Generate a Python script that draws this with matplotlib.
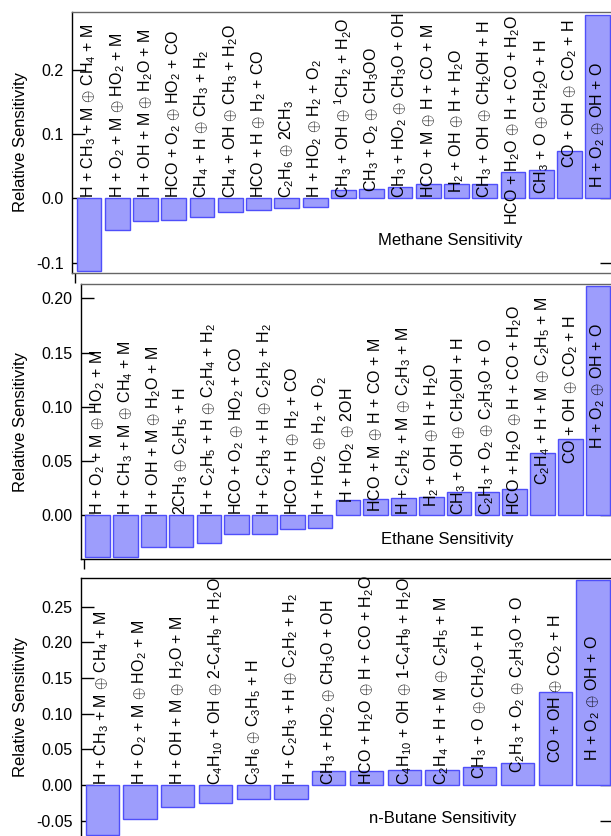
import matplotlib
matplotlib.use('Agg')
import matplotlib.pyplot as plt
import numpy as np

plt.rcParams['font.family'] = ['Liberation Sans', 'DejaVu Sans']
plt.rcParams['mathtext.fontset'] = 'custom'
plt.rcParams['mathtext.rm'] = 'Liberation Sans'
plt.rcParams['mathtext.it'] = 'Liberation Sans:italic'
plt.rcParams['mathtext.default'] = 'rm'
plt.rcParams['mathtext.fallback'] = 'cm'
plt.rcParams['axes.unicode_minus'] = False

EQ = r'$\oplus$'

# Methane
methane_rxn = ['H + CH$_3$ + M ⊕ CH$_4$ + M', 'H + O$_2$ + M ⊕ HO$_2$ + M', 'H + OH + M ⊕ H$_2$O + M',
               'HCO + O$_2$ ⊕ HO$_2$ + CO', 'CH$_4$ + H ⊕ CH$_3$ + H$_2$', 'CH$_4$ + OH ⊕ CH$_3$ + H$_2$O',
               'HCO + H ⊕ H$_2$ + CO', 'C$_2$H$_6$ ⊕ 2CH$_3$', 'H + HO$_2$ ⊕ H$_2$ + O$_2$',
               'CH$_3$ + OH ⊕ $^1$CH$_2$ + H$_2$O', 'CH$_3$ + O$_2$ ⊕ CH$_3$OO', 'CH$_3$ + HO$_2$ ⊕ CH$_3$O + OH',
               'HCO + M ⊕ H + CO + M', 'H$_2$ + OH ⊕ H + H$_2$O', 'CH$_3$ + OH ⊕ CH$_2$OH + H',
               'HCO + H$_2$O ⊕ H + CO + H$_2$O', 'CH$_3$ + O ⊕ CH$_2$O + H', 'CO + OH ⊕ CO$_2$ + H',
               'H + O$_2$ ⊕ OH + O']
methane_sens = [-0.113, -0.049, -0.035, -0.034, -0.029, -0.0215, -0.0187, -0.0156, -0.014,
                0.013, 0.014, 0.017, 0.022, 0.022, 0.022, 0.0404, 0.0435, 0.0736, 0.2846]
methane_lbl_y = [0, 0, 0, 0, 0, 0, 0, 0, 0,
                 0, 0.010, 0, 0, 0.009, 0, -0.0415, 0.006, 0.0467, 0.0156]

# Ethane
ethane_rxn = ['H + O$_2$ + M ⊕ HO$_2$ + M', 'H + CH$_3$ + M ⊕ CH$_4$ + M', 'H + OH + M ⊕ H$_2$O + M',
              '2CH$_3$ ⊕ C$_2$H$_5$ + H', 'H + C$_2$H$_5$ + H ⊕ C$_2$H$_4$ + H$_2$', 'HCO + O$_2$ ⊕ HO$_2$ + CO',
              'H + C$_2$H$_3$ + H ⊕ C$_2$H$_2$ + H$_2$', 'HCO + H ⊕ H$_2$ + CO', 'H + HO$_2$ ⊕ H$_2$ + O$_2$',
              'H + HO$_2$ ⊕ 2OH', 'HCO + M ⊕ H + CO + M', 'H + C$_2$H$_2$ + M ⊕ C$_2$H$_3$ + M',
              'H$_2$ + OH ⊕ H + H$_2$O', 'CH$_3$ + OH ⊕ CH$_2$OH + H', 'C$_2$H$_3$ + O$_2$ ⊕ C$_2$H$_3$O + O',
              'HCO + H$_2$O ⊕ H + CO + H$_2$O', 'C$_2$H$_4$ + H + M ⊕ C$_2$H$_5$ + M', 'CO + OH ⊕ CO$_2$ + H',
              'H + O$_2$ ⊕ OH + O']
ethane_sens = [-0.039, -0.0385, -0.0298, -0.0295, -0.0262, -0.0178, -0.0178, -0.0126, -0.012,
               0.0139, 0.0148, 0.0157, 0.0166, 0.0212, 0.0212, 0.024, 0.057, 0.0699, 0.2111]
ethane_lbl_y = [0, 0, 0, 0, 0, 0, 0, 0, 0,
                0.0115, 0.003, 0, 0.0074, 0, 0, 0, 0.0274, 0.0475, 0.0613]

# n-Butane
butane_rxn = ['H + CH$_3$ + M ⊕ CH$_4$ + M', 'H + O$_2$ + M ⊕ HO$_2$ + M', 'H + OH + M ⊕ H$_2$O + M',
              'C$_4$H$_{10}$ + OH ⊕ 2-C$_4$H$_9$ + H$_2$O', 'C$_3$H$_6$ ⊕ C$_3$H$_5$ + H',
              'H + C$_2$H$_3$ + H ⊕ C$_2$H$_2$ + H$_2$', 'CH$_3$ + HO$_2$ ⊕ CH$_3$O + OH',
              'HCO + H$_2$O ⊕ H + CO + H$_2$O', 'C$_4$H$_{10}$ + OH ⊕ 1-C$_4$H$_9$ + H$_2$O',
              'C$_2$H$_4$ + H + M ⊕ C$_2$H$_5$ + M', 'CH$_3$ + O ⊕ CH$_2$O + H',
              'C$_2$H$_3$ + O$_2$ ⊕ C$_2$H$_3$O + O', 'CO + OH ⊕ CO$_2$ + H', 'H + O$_2$ ⊕ OH + O']
butane_sens = [-0.070, -0.0477, -0.0313, -0.0257, -0.0196, -0.0196,
               0.020, 0.020, 0.0215, 0.0215, 0.0248, 0.031, 0.1303, 0.2875]
butane_lbl_y = [0, 0, 0, 0, 0, 0, 0, 0, 0, 0, 0.008, 0.0164, 0.031, 0.033]

W, H = 611, 836
fig = plt.figure(figsize=(W / 100, H / 100), dpi=100)


def px_axes(left, top, right, bottom):
    return fig.add_axes([left / W, 1 - bottom / H, (right - left) / W, (bottom - top) / H])


panels = [
    dict(rxn=methane_rxn, sens=methane_sens, lbl=methane_lbl_y, box=(72, 12.3, 612, 272.7),
         ylim=(-0.1157, 0.2893), yticks=[-0.1, 0.0, 0.1, 0.2], fmt='%.1f', xlim=(-0.6, 18.5),
         title='Methane Sensitivity', tpos=(0.700, 0.122), top_c='#666666', bot_c='#666666'),
    dict(rxn=ethane_rxn, sens=ethane_sens, lbl=ethane_lbl_y, box=(81, 284, 612, 559),
         ylim=(-0.0406, 0.2133), yticks=[0.0, 0.05, 0.10, 0.15, 0.20], fmt='%.2f', xlim=(-0.6, 18.5),
         title='Ethane Sensitivity', tpos=(0.689, 0.072), top_c='#666666', bot_c='black'),
    dict(rxn=butane_rxn, sens=butane_sens, lbl=butane_lbl_y, box=(81, 578, 612, 836.7),
         ylim=(-0.0725, 0.2903), yticks=[-0.05, 0.0, 0.05, 0.10, 0.15, 0.20, 0.25], fmt='%.2f', xlim=(-0.56, 13.5),
         title='n-Butane Sensitivity', tpos=(0.682, 0.071), top_c='black', bot_c='black'),
]

for p in panels:
    ax = px_axes(*p['box'])
    x = np.arange(len(p['sens']))
    ax.bar(x, p['sens'], width=0.88, color='#9d9dfc', edgecolor='#4f4ffa', linewidth=1.0, zorder=2)
    for xi, txt, ly in zip(x, p['rxn'], p['lbl']):
        ax.text(xi, ly, txt.replace('⊕', EQ), rotation=90, ha='center', va='bottom',
                fontsize=11.5, zorder=3)
    ax.set_xlim(*p['xlim'])
    ax.set_ylim(*p['ylim'])
    ax.set_axisbelow(True)
    ax.set_yticks(p['yticks'])
    ax.set_yticklabels([p['fmt'] % v for v in p['yticks']])
    ax.tick_params(axis='y', direction='in', length=9, width=1, labelsize=11.5, right=True, pad=6)
    ax.set_xticks([-0.5])
    ax.set_xticklabels([])
    ax.tick_params(axis='x', direction='out', length=7.5, width=1)
    ax.set_ylabel('Relative Sensitivity', fontsize=12)
    ax.yaxis.set_label_coords((28 - p['box'][0]) / (p['box'][2] - p['box'][0]), 0.5)
    ax.spines['left'].set_color('black')
    ax.spines['top'].set_color(p['top_c'])
    ax.spines['bottom'].set_color(p['bot_c'])
    ax.spines['right'].set_visible(False)
    for s in ax.spines.values():
        s.set_linewidth(1.0)
    ax.text(p['tpos'][0], p['tpos'][1], p['title'], transform=ax.transAxes,
            ha='center', va='center', fontsize=12)

fig.savefig('out.png', dpi=100)
